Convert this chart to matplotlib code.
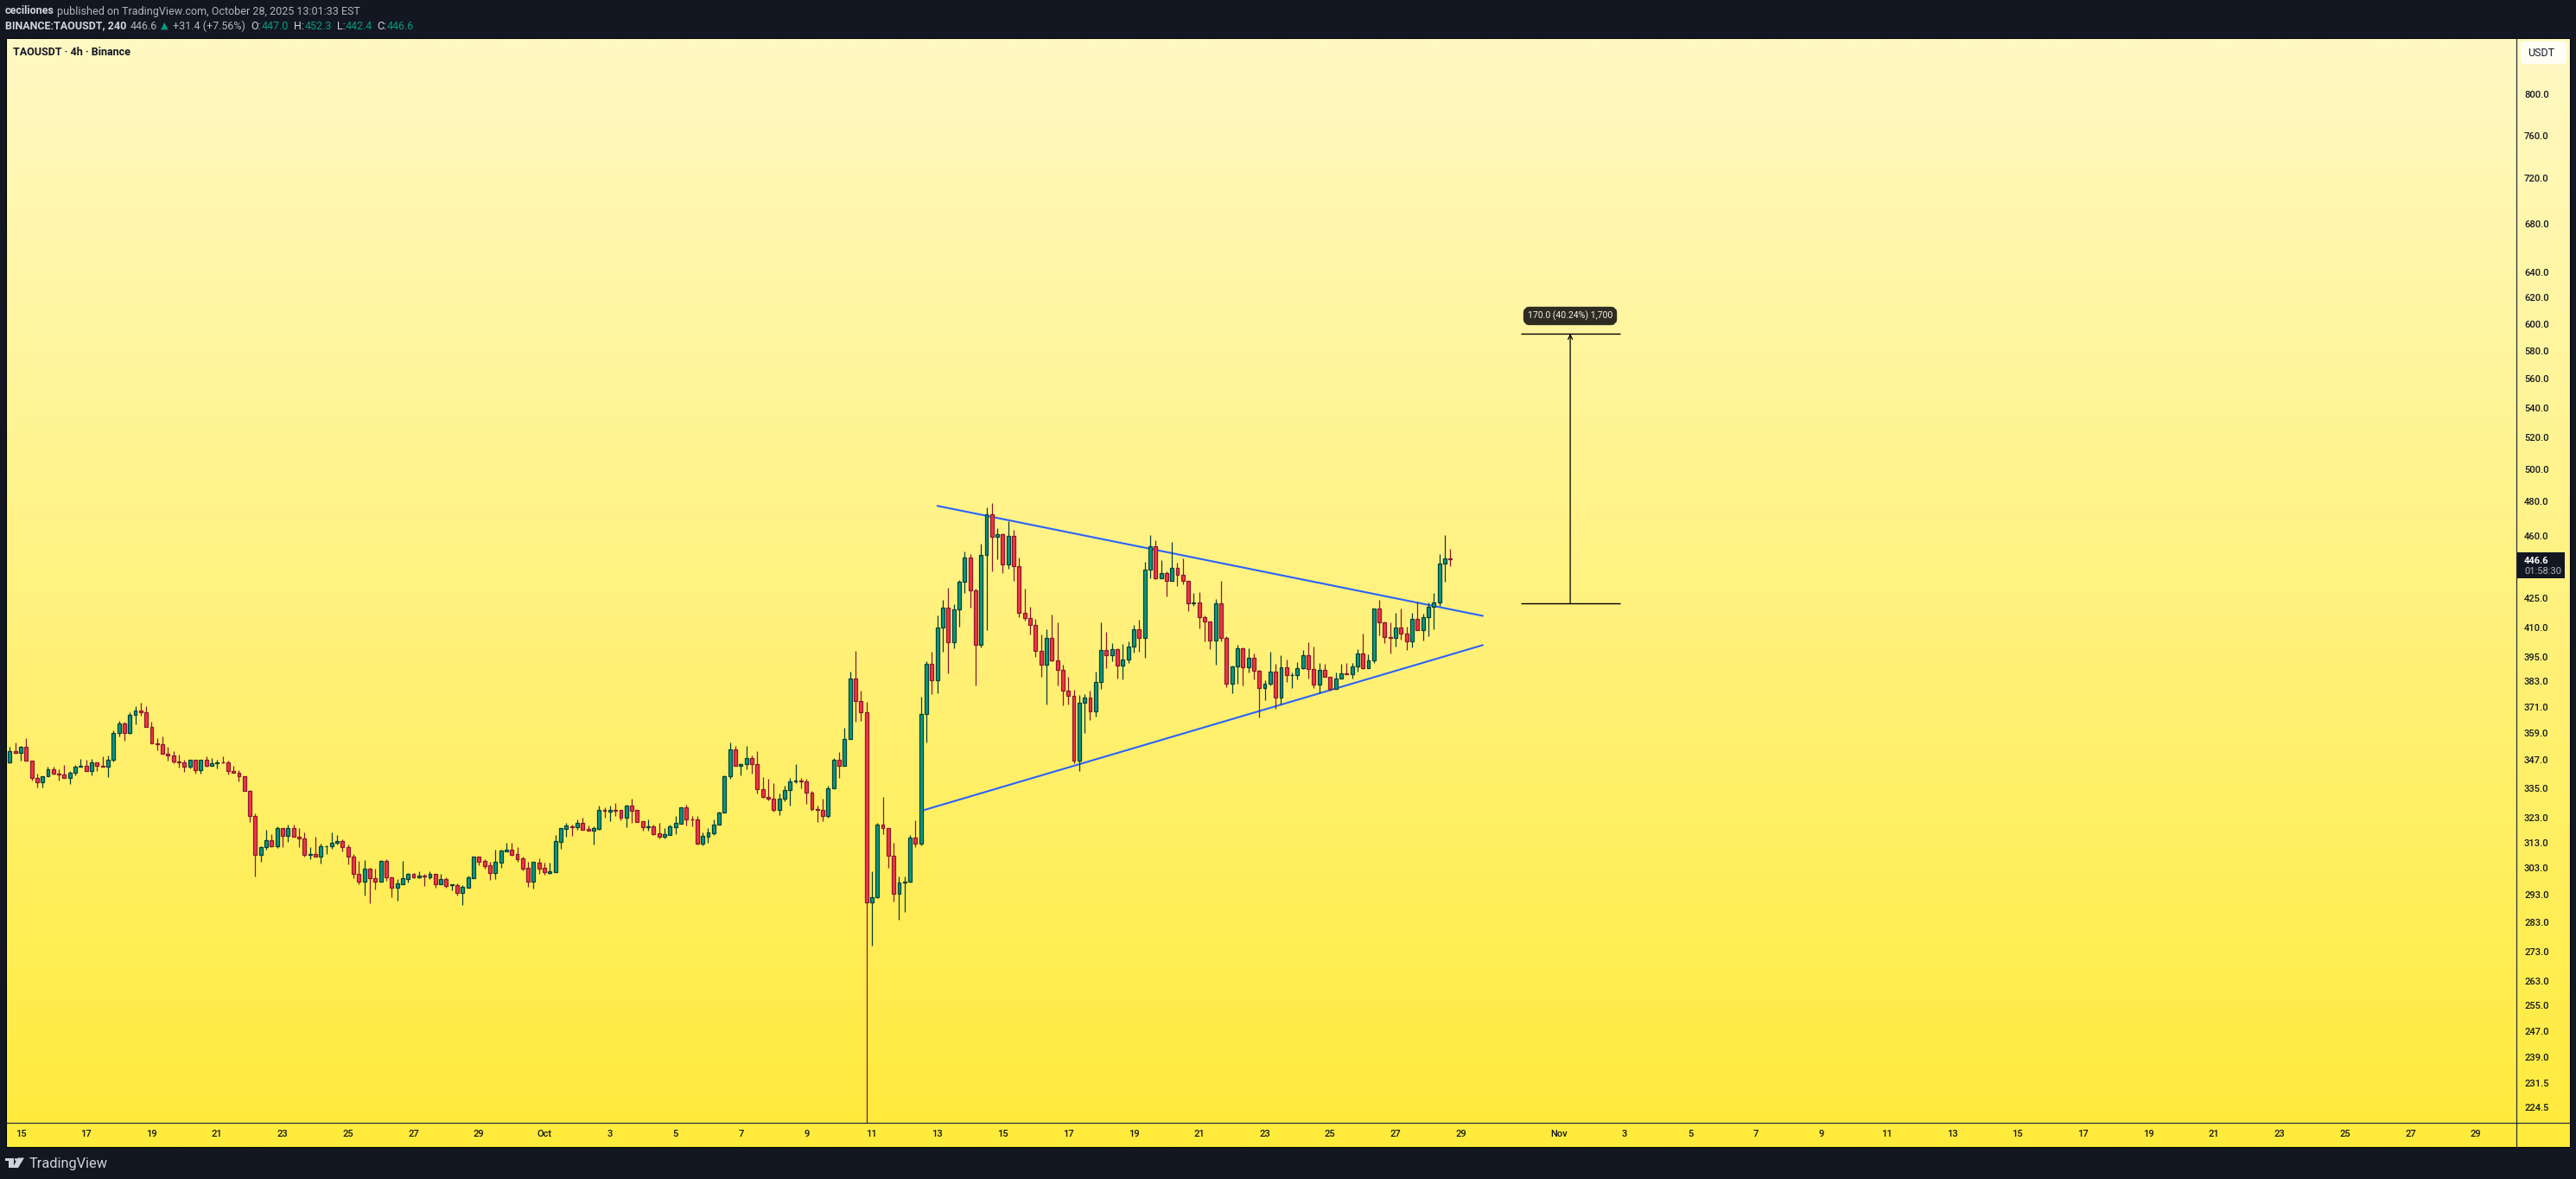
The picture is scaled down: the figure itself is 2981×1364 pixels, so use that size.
import math
import numpy as np, pandas as pd
import matplotlib
matplotlib.use("Agg")
import matplotlib.pyplot as plt
from matplotlib.colors import LinearSegmentedColormap
from matplotlib.patches import Polygon, Rectangle, FancyBboxPatch

opens=[346.1,350.9,350.3,352.7,346.6,339.2,337.6,340.2,342.9,341.2,341.0,339.4,341.7,344.3,344.4,342.4,345.9,344.5,344.3,347.3,358.9,363.2,359.1,367.4,369.5,368.7,361.6,354.4,353.9,349.7,348.9,346.3,345.9,344.3,347.0,342.8,347.0,344.6,345.5,345.9,345.9,342.2,341.4,339.9,333.7,323.4,308.2,311.3,313.7,311.6,318.5,315.7,318.5,315.1,314.4,308.1,308.3,307.5,311.6,311.6,312.7,313.4,311.3,307.3,301.0,298.0,302.7,299.3,298.0,305.7,299.7,295.8,297.0,299.0,301.0,299.6,300.1,299.6,300.7,297.0,298.8,296.7,296.8,293.8,295.8,299.3,307.3,305.7,304.0,301.3,305.2,309.5,310.3,308.3,306.7,303.0,298.0,305.0,303.0,301.3,301.6,313.3,318.4,319.3,319.1,320.6,318.2,317.5,318.4,325.9,325.4,325.9,325.9,322.9,327.6,325.9,321.3,319.0,319.2,316.5,315.3,316.0,319.1,320.5,326.9,322.3,322.3,312.6,315.3,316.7,
319.9,324.8,339.9,351.9,344.6,345.1,348.1,345.4,334.7,331.4,330.7,326.1,330.5,334.4,337.7,338.1,338.0,333.2,326.4,326.1,323.6,334.8,347.0,344.6,356.2,384.3,373.8,368.6,290.4,292.1,320.0,318.5,307.7,293.3,297.5,298.0,314.8,312.6,367.6,391.5,383.5,409.7,420.0,402.5,419.1,433.9,447.3,429.3,401.2,448.8,472.2,459.4,460.6,443.8,459.6,442.8,417.3,414.9,411.3,398.2,391.3,404.4,393.4,388.8,378.8,376.3,346.9,372.8,375.2,369.0,382.6,398.3,396.0,398.7,390.9,393.6,400.0,408.8,404.7,440.6,453.7,436.1,438.7,434.7,441.5,438.0,434.7,422.3,422.8,415.4,413.1,403.4,422.3,404.7,382.1,390.2,399.2,390.0,394.4,388.4,380.0,381.8,387.7,375.5,389.8,386.0,386.0,389.4,395.8,388.9,381.4,388.5,385.2,379.4,384.3,386.8,386.7,390.2,396.6,389.4,393.2,419.6,412.4,404.9,404.7,409.7,406.6,402.7,414.2,408.4,415.1,420.5,422.8,444.0,447.0]
closes=[350.9,350.3,352.7,346.6,339.2,337.6,340.2,342.9,341.2,341.0,339.4,341.7,344.3,344.4,342.4,345.9,344.5,344.3,347.3,358.9,363.2,359.1,367.4,369.5,368.7,361.6,354.4,353.9,349.7,348.9,346.3,345.9,344.3,347.0,342.8,347.0,344.6,345.5,345.9,345.9,342.2,341.4,339.9,333.7,323.4,308.2,311.3,313.7,311.6,318.5,315.7,318.5,315.1,314.4,308.1,308.3,307.5,311.6,311.6,312.7,313.4,311.3,307.3,301.0,298.0,
302.7,299.3,298.0,305.7,299.6,295.8,297.2,299.1,301.0,299.6,300.1,300.0,300.7,297.0,298.8,296.4,296.9,293.8,295.9,299.4,307.3,305.5,303.9,301.3,305.3,309.7,310.3,308.2,306.5,302.9,298.0,305.3,302.9,301.6,301.9,313.4,318.5,319.6,319.1,320.9,318.1,317.5,318.5,325.9,325.6,325.9,325.7,322.9,327.6,325.7,321.2,319.1,319.2,316.3,315.3,316.1,319.2,320.6,326.9,322.3,322.2,312.6,315.4,317.1,319.9,324.8,339.9,351.9,344.6,345.1,348.1,345.4,334.7,331.4,330.7,326.1,330.5,334.4,337.7,338.1,338.0,333.2,326.4,326.1,323.6,334.8,347.0,344.6,356.2,384.3,373.8,368.6,290.4,292.1,320.0,318.5,307.7,293.3,297.5,298.0,314.8,312.6,367.6,391.5,383.5,409.7,420.0,402.5,419.1,433.9,447.3,429.3,401.2,448.8,472.2,459.4,460.6,443.8,459.6,442.8,417.3,414.9,411.3,398.2,391.3,404.4,393.4,388.8,378.8,376.3,346.9,372.8,375.2,369.0,382.6,398.3,396.0,398.7,390.9,393.6,400.0,408.8,404.7,440.6,453.7,436.1,438.7,434.7,441.5,438.0,434.7,422.3,422.8,415.4,413.1,403.4,422.3,404.7,382.1,390.2,399.2,390.0,394.4,388.4,380.0,381.8,387.7,375.5,389.8,386.0,386.0,389.4,395.8,388.9,381.4,388.5,385.2,379.4,384.3,386.8,386.7,390.2,396.6,389.4,393.2,419.6,412.4,404.9,404.7,409.7,406.6,402.7,414.2,408.4,415.1,420.5,422.8,444.0,446.9,446.6]
upper_wick=[2,3.8,.5,4,0,2,0,1.1,1.1,1.9,3.8,.6,.7,3,2.8,1.6,0,4.1,1.6,1.3,1.2,.9,1.3,1.7,3.4,2.5,2.5,2.3,3.6,3.2,2,3.1,1.3,0,0,0,1.5,2.4,1.1,2.6,.8,2.4,1.1,0,.4,1.1,.3,4.1,2.4,.7,.3,1.4,1.4,3.4,2.4,3,6.8,1,.2,4.1,2.4,.7,1,1.3,4.9,3.3,.3,3.4,.3,.7,.3,1.6,6.6,.3,.3,1.6,.7,1,0,2,.6,.1,.6,.6,.7,0,0,.7,1.3,4.7,.3,2.4,2.4,2.7,.7,2.6,0,1.7,2,3.1,2.4,0,1,.6,1.4,2.1,1.4,.7,1.8,1.1,1.8,2.8,0,.4,2.9,0,0,2.8,1,4.1,2.4,.7,2.8,0,1.1,1.4,1.4,1.4,1.4,2.1,.4,.7,2.7,1.5,.7,5.3,.8,5.7,5.1,7.6,6.5,2.2,1.8,1.5,7,1.1,1.1,.7,1.4,4.6,1.1,.8,3.4,5.1,3.3,13.6,4.9,4.8,9.7,.7,11.3,.3,5,2.3,1.8,1,7,8.1,1.3,6.1,6.3,4.1,10.6,2.7,.9,3.4,1.9,.9,6.4,4.1,6.7,3.5,.5,8.6,3.5,4.8,12.9,5.9,3.1,8.3,4.4,12,19.2,2.5,6.6,2.9,3.7,1.6,3.3,5,14.1,9.2,3,.4,7.8,2.6,2.2,4.9,4.3,6.4,3.5,7.2,1,14.6,2.9,9.1,0,5.1,5.5,.5,0,2.3,12.1,.9,.4,1.7,.4,4.7,2.1,.4,1.7,9.9,3.8,6,3.8,1.3,3,2.6,6.5,11.1,3.4,3,0,2.9,4.6,5.1,1.7,2.2,10,3,0,4.6,.4,7.5,7.6,9.9,3.5,3.2,9.1,1.8,2.3,5.1,5.3,13.3,5.4]
lower_wick=[.4,.6,3.5,0,1.1,2.2,2.2,0,.5,2.7,0,2.7,1.1,0,0,1.9,2.2,0,4.6,.8,1.3,3.6,.4,4.5,1.7,0,0,2.7,0,2.3,.8,2.2,2.2,.7,1.5,1.5,.4,0,2,.2,1.5,0,2.2,0,2.4,8.2,2.7,1.1,.3,.7,4.4,2.4,0,3.4,.7,1.6,0,2.7,3,1,.5,1.7,2.7,1.9,1,5.1,9.3,2.9,0,1.3,3.5,4.8,0,1.3,.3,.3,3.6,.6,1.3,0,.6,1.9,1,4.4,0,0,1.3,1,2.6,2.3,2,0,.3,1,.7,1.9,2.6,2,1,.3,0,2.7,3.1,3.4,1,0,0,5.2,.3,2.7,3.9,2.1,1,3.8,4.9,0,1.4,1.3,.3,.7,.7,0,2.8,0,2.6,2.8,.3,.7,2.4,.7,0,0,1.1,0,4.2,2.2,4.1,1.8,.4,.7,.7,2.1,1.1,6.5,.7,2.9,4.8,.7,4.9,2.1,.7,0,5.2,0,0,9.6,4,75.3,15.3,.3,2.4,4.4,2.8,9.4,10.8,.3,1.4,.7,12.9,6.7,6.2,12.3,15.4,3,8.7,5.8,8.9,19.9,1.3,40.1,19.5,12.8,4.8,2.4,8.1,2,1.3,4.9,3.4,5.9,19,.4,7.5,6.9,4.1,1.1,4.5,13.9,4,2.4,3,6.4,3,6.3,7.1,1.7,3,7,10,4.8,.5,0,8.4,0,6.1,1.9,3.8,1.4,5.8,10.2,4.4,12.1,1.8,1.7,4.5,8.4,8.8,2.5,4.2,13.8,5.7,.6,5.3,3.2,3.1,6.1,1.8,.4,4.3,1.4,3.8,0,.8,0,0,0,2.1,2.5,.4,0,1.3,6.4,2.8,7.8,4.5,2.8,4.1,2.8,0,5,9.9,11.4,1.5,9.7,3.9]
directions="GRGRRRGGRRRGGGRGRRGGGRGGRRRRRRRRRGRGRGGRRRRRRRGGRGRGRRRGRGGGGRRRRGRRGRRGGGRGRGRGRGRGGGRRRGGGRRRRGRRGGGGRGRRGGRGRRGRRRGRRGGGGRRRGGGGGGRGGRRRRRGGGGRRRRRGGRGGRRRGGRRRGGGRGGRGGRGGGRRGGRGRGRRRRRRGRRRRRGGRGGRGRGGGRGGRGRGRRRGRRRGRRGGRGRRGGRGRGGGRRGRRGGRGGRGGRRRGRRGRGGGGGR"
price_ticks=[800,760,720,680,640,620,600,580,560,540,520,500,480,460,425,410,395,383,371,359,347,335,323,313,303,293,283,273,263,255,247,239,231.5,224.5]
date_ticks=[("2025-09-%02d"%d,str(d)) for d in range(15,30,2)]+[("2025-10-01","Oct")]+[("2025-10-%02d"%d,str(d)) for d in range(3,30,2)]+[("2025-11-01","Nov")]+[("2025-11-%02d"%d,str(d)) for d in range(3,30,2)]
upper_line=[(169.9,477.5),(270.1,415.8)]
lower_line=[(167.5,325.9),(270.1,401.0)]
measure_base=422.5; measure_target=592.5; measure_span=(277,295.2); measure_center=286

W,H=2981,1364
BG="#131722"
plt.rcParams['font.family']=['Roboto','DejaVu Sans']
fig=plt.figure(figsize=(W/100,H/100),dpi=100,facecolor=BG)
def fx(x): return x/W
def fy(y): return 1-y/H
def txt(x,y,s,c="#000000",size=8,weight="normal",ha="left",fam=None):
    return fig.text(fx(x),fy(y),s,color=c,fontsize=size,fontweight=weight,ha=ha,va="center",family=fam or ['Roboto','DejaVu Sans'],zorder=10)
PL,PR,PT,PB=7,2974,44,1327
AR,AB=2912.3,1299.3
bg=fig.add_axes([fx(PL),fy(PB),fx(PR-PL),(PB-PT)/H]);bg.set_axis_off()
cm=LinearSegmentedColormap.from_list("g",["#FFF9C4","#FFEB3B"])
bg.imshow(np.linspace(0,1,512)[:,None],aspect="auto",cmap=cm,interpolation="bilinear")
ax=fig.add_axes([fx(PL),fy(AB),fx(AR-PL),(AB-PT)/H],facecolor="none")
ax.set_yscale("log")
x=np.arange(len(closes))
def ix(px): return (px-11.3)/6.314
def py(y): return 800*math.exp(-(y-109.3)/922)
ax.set_xlim(ix(PL),ix(AR)); ax.set_ylim(py(AB),py(PT))
ax.plot(*zip(*upper_line),color="#2962FF",lw=1.5,zorder=1,solid_capstyle="butt")
ax.plot(*zip(*lower_line),color="#2962FF",lw=1.5,zorder=1,solid_capstyle="butt")
GF,GE="#089981","#053F3B"
RF,RE="#F23645","#8A1830"
for i in x:
    g=directions[i]=="G"
    b=min(opens[i],closes[i]);t=max(opens[i],closes[i])
    ax.vlines(i,b-lower_wick[i],t+upper_wick[i],color=GE if g else RE,lw=0.9,zorder=2)
    ax.bar(i,t-b,bottom=b,width=0.62,color=GF if g else RF,edgecolor=GE if g else RE,linewidth=0.9,zorder=3)
ax.hlines([measure_base,measure_target],*measure_span,color="black",lw=1,zorder=4)
ax.annotate("",xy=(measure_center,measure_target),xytext=(measure_center,measure_base),arrowprops=dict(arrowstyle="->",color="black",lw=0.9,shrinkA=0,shrinkB=0,mutation_scale=9),zorder=4)
ax.minorticks_off()
ax.yaxis.tick_right()
ax.set_yticks(price_ticks); ax.set_yticklabels(["%.1f"%p for p in price_ticks],fontsize=8,color="#131722",fontweight="medium",family=['Roboto','DejaVu Sans'])
ax.tick_params(axis="y",which="both",length=0,pad=6.3)
d0=pd.Timestamp("2025-09-15")
xt=[(pd.Timestamp(d)-d0)/pd.Timedelta(hours=4)+2 for d,_ in date_ticks]
ax.set_xticks(xt); ax.set_xticklabels([l for _,l in date_ticks],fontsize=8,color="#131722",fontweight="medium",family=['Roboto','DejaVu Sans'])
ax.tick_params(axis="x",length=0,pad=5.5)
for s in ("left","top"): ax.spines[s].set_visible(False)
for s in ("right","bottom"): ax.spines[s].set_color("#2A2E39"); ax.spines[s].set_linewidth(0.9)
fig.add_artist(plt.Line2D([fx(AR),fx(AR)],[fy(AB),fy(PB)],color="#2A2E39",lw=0.9))
fig.add_artist(plt.Line2D([fx(AR),fx(PR)],[fy(AB),fy(AB)],color="#2A2E39",lw=0.9))
fig.add_artist(Rectangle((fx(PL),fy(PB)),fx(PR-PL),(PB-PT)/H,fill=False,ec="#000000",lw=0.8,transform=fig.transFigure))
txt(6,13,"ceciliones",c="#D1D4DC",size=9,weight="bold")
txt(66,13,"published on TradingView.com, October 28, 2025 13:01:33 EST",c="#B2B5BE",size=9)
txt(6,30,"BINANCE:TAOUSDT, 240",c="#D1D4DC",size=9,weight="bold")
txt(151,30,"446.6",c="#B2B5BE",size=9)
txt(186,30,"▲",c="#089981",size=8,fam=['DejaVu Sans'])
txt(200,30,"+31.4 (+7.56%)",c="#B2B5BE",size=9)
for xa,xb,k,v in ((290,303,"O:","447.0"),(340,353,"H:","452.3"),(390,400,"L:","442.4"),(436,448,"C:","446.6")):
    txt(xa,30,k,c="#D1D4DC",size=9); txt(xb,30,v,c="#089981",size=9)
txt(15,61,"TAOUSDT · 4h · Binance",c="#131722",size=9,weight="bold")
fig.add_artist(FancyBboxPatch((fx(1767),fy(372)),fx(100),13/H,boxstyle="round,pad=0,rounding_size=0.001",transform=fig.transFigure,fc="#2E2C22",ec="#2E2C22",lw=6,mutation_aspect=2.2,zorder=8))
txt(1817,365.5,"170.0 (40.24%) 1,700",c="#F0F0E8",size=7.6,ha="center")
fig.add_artist(Rectangle((fx(AR+.5),fy(669)),fx(55),30/H,fc=BG,ec="none",transform=fig.transFigure,zorder=8))
txt(2921,648.5,"446.6",c="#FFFFFF",size=8,weight="bold")
txt(2921,661,"01:58:30",c="#B2B5BE",size=8)
fig.add_artist(FancyBboxPatch((fx(2919),fy(72)),fx(49),22/H,boxstyle="round,pad=0,rounding_size=0.001",transform=fig.transFigure,fc="#FFFEF5",ec="#FFFEF5",lw=3,mutation_aspect=2.2,zorder=8))
txt(2925,61.5,"USDT",c="#131722",size=9)
LC="#D1D4DC"
for pts in ([(5.5,1339.5),(16,1339.5),(16,1351),(10,1351),(10,1343),(5.5,1343)],[(20.5,1339.5),(28,1339.5),(21,1351),(14.8,1351)]):
    fig.add_artist(Polygon([(fx(a),fy(b)) for a,b in pts],closed=True,fc=LC,ec="none",transform=fig.transFigure))
fig.add_artist(plt.Line2D([fx(18.3)],[fy(1341)],marker="o",ms=2.2,color=LC,mec="none",lw=0))
txt(34,1346,"TradingView",c=LC,size=11.8)
fig.savefig("out.png",dpi=100,facecolor=BG)
